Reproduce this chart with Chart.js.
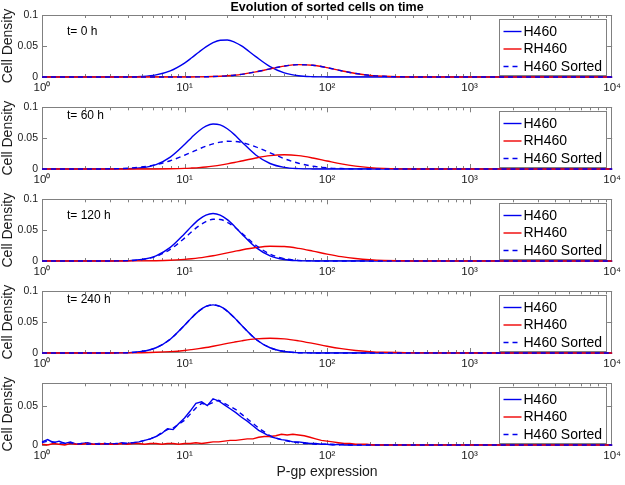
<!DOCTYPE html>
<html>
<head>
<meta charset="utf-8">
<script src="https://cdn.jsdelivr.net/npm/chart.js@4.4.1/dist/chart.umd.min.js"></script>
<style>
  html, body { margin: 0; padding: 0; background: #fff; }
  #wrap { position: relative; width: 625px; height: 485px; overflow: hidden; }
  #wrap canvas { position: absolute; left: 0; }
</style>
</head>
<body>
<div id="wrap"></div>
<script>
// ---- data ----
const title = 'Evolution of sorted cells on time';
const seriesNames = ['H460', 'RH460', 'H460 Sorted'];
const panelNotes = ['t= 0 h', 't= 60 h', 't= 120 h', 't= 240 h', ''];

const xTickValues = [1, 10, 100, 1000, 10000];
const xTickLabels = ['10⁰', '10¹', '10²', '10³', '10⁴'];
const yTickValues = [0, 0.05, 0.1];
const yTickLabels = ['0', '0.05', '0.1'];

// P-gp expression grid for the fitted (smooth) panels
const xSmooth = [1, 1.585, 2.512, 3.162, 3.981, 5.012, 6.31, 7.943, 10, 11.22, 12.59, 14.13, 15.85, 17.78, 19.95,
  22.39, 25.12, 31.62, 39.81, 50.12, 63.1, 79.43, 100, 125.9, 158.5, 199.5, 251.2, 398.1, 1000, 10000];

const h460_0h   = [0, 0, 0, 0, 0.0002, 0.0009, 0.0034, 0.0099, 0.0225, 0.031, 0.040, 0.0486, 0.0554, 0.0593, 0.0597,
  0.0564, 0.0501, 0.0328, 0.0167, 0.0066, 0.002, 0.0005, 0.0001, 0, 0, 0, 0, 0, 0, 0];
const rh460_0h  = [0, 0, 0, 0, 0, 0, 0, 0, 0.0001, 0.0001, 0.0002, 0.0004, 0.0007, 0.0012, 0.0019,
  0.0029, 0.0043, 0.0082, 0.0131, 0.0176, 0.0199, 0.0189, 0.0151, 0.0101, 0.0057, 0.0027, 0.0011, 0.0001, 0, 0];
const sorted_0h = [0, 0, 0, 0, 0, 0, 0, 0, 0.0001, 0.0001, 0.0002, 0.0004, 0.0007, 0.0012, 0.0019,
  0.0029, 0.0043, 0.0082, 0.0131, 0.0176, 0.0199, 0.0189, 0.0151, 0.0101, 0.0057, 0.0027, 0.0011, 0.0001, 0, 0];

const h460_60h   = [0, 0, 0, 0.0001, 0.0004, 0.002, 0.0071, 0.0193, 0.0396, 0.0512, 0.0617, 0.0694, 0.0729, 0.0714, 0.0653,
  0.0557, 0.0443, 0.0228, 0.0089, 0.0026, 0.0006, 0.0001, 0, 0, 0, 0, 0, 0, 0, 0];
const rh460_60h  = [0, 0, 0, 0, 0, 0, 0.0001, 0.0004, 0.001, 0.0016, 0.0023, 0.0033, 0.0047, 0.0063, 0.0083,
  0.0105, 0.013, 0.0178, 0.0216, 0.023, 0.0216, 0.0178, 0.013, 0.0083, 0.0047, 0.0023, 0.001, 0.0001, 0, 0];
const sorted_60h = [0, 0, 0.0001, 0.0004, 0.0013, 0.0032, 0.0071, 0.0134, 0.0223, 0.0273, 0.0323, 0.0369, 0.0408, 0.0435, 0.0449,
  0.0447, 0.0431, 0.036, 0.0263, 0.0167, 0.0093, 0.0045, 0.0019, 0.0007, 0.0002, 0, 0, 0, 0, 0];

const h460_120h   = [0, 0, 0, 0.0001, 0.0005, 0.0024, 0.0084, 0.0221, 0.0443, 0.0564, 0.067, 0.0744, 0.077, 0.0744, 0.067,
  0.0564, 0.0443, 0.0221, 0.0084, 0.0024, 0.0005, 0.0001, 0, 0, 0, 0, 0, 0, 0, 0];
const rh460_120h  = [0, 0, 0, 0, 0.0001, 0.0002, 0.0005, 0.0012, 0.0027, 0.0037, 0.005, 0.0067, 0.0086, 0.0108, 0.0131,
  0.0155, 0.0179, 0.0218, 0.0239, 0.0234, 0.0204, 0.016, 0.0112, 0.007, 0.004, 0.002, 0.0009, 0.0001, 0, 0];
const sorted_120h = [0, 0, 0, 0.0001, 0.0006, 0.0023, 0.0075, 0.0189, 0.0371, 0.0474, 0.0568, 0.0639, 0.0677, 0.0673, 0.0628,
  0.0551, 0.0454, 0.0255, 0.0112, 0.0038, 0.001, 0.0002, 0, 0, 0, 0, 0, 0, 0, 0];

const h460_240h   = [0, 0, 0, 0.0001, 0.0005, 0.0024, 0.0085, 0.0224, 0.0449, 0.0571, 0.0679, 0.0754, 0.078, 0.0754, 0.0679,
  0.0571, 0.0449, 0.0224, 0.0085, 0.0024, 0.0005, 0.0001, 0, 0, 0, 0, 0, 0, 0, 0];
const rh460_240h  = [0, 0, 0, 0.0001, 0.0002, 0.0005, 0.0011, 0.0022, 0.0041, 0.0055, 0.0071, 0.0089, 0.011, 0.0132, 0.0155,
  0.0177, 0.0197, 0.0229, 0.024, 0.0229, 0.0197, 0.0155, 0.011, 0.0071, 0.0041, 0.0022, 0.0011, 0.0002, 0, 0];
const sorted_240h = [0, 0, 0, 0.0001, 0.0005, 0.0024, 0.0085, 0.0224, 0.0449, 0.0571, 0.0679, 0.0754, 0.078, 0.0754, 0.0679,
  0.0571, 0.0449, 0.0224, 0.0085, 0.0024, 0.0005, 0.0001, 0, 0, 0, 0, 0, 0, 0, 0];

// measured histogram (bottom panel) bin centres
const xHist = [1, 1.096, 1.202, 1.318, 1.445, 1.585, 1.738, 1.905, 2.089, 2.291, 2.512, 2.754, 3.02, 3.311, 3.631,
  3.981, 4.365, 4.786, 5.248, 5.754, 6.31, 6.918, 7.586, 8.318, 9.12, 10,
  10.96, 12.02, 13.18, 14.45, 15.85, 17.38, 19.05, 20.89, 22.91, 25.12, 27.54, 30.2, 33.11, 36.31, 39.81,
  43.65, 47.86, 52.48, 57.54, 63.1, 69.18, 75.86, 83.18, 91.2, 100,
  109.6, 120.2, 131.8, 144.5, 158.5, 173.8, 190.5, 208.9, 229.1, 251.2, 275.4, 302, 331.1, 363.1, 398.1,
  1000, 10000];
const h460_hist = [0.004, 0.007, 0.003, 0.005, 0.002, 0.004, 0.001, 0.002, 0.003, 0.001, 0.002, 0.001, 0.002, 0.001, 0.003,
  0.002, 0.003, 0.004, 0.006, 0.008, 0.011, 0.015, 0.021, 0.020, 0.028, 0.035,
  0.044, 0.054, 0.056, 0.051, 0.060, 0.057, 0.052, 0.047, 0.042, 0.036, 0.031, 0.025, 0.019, 0.015, 0.011,
  0.009, 0.007, 0.006, 0.004, 0.004, 0.003, 0.002, 0.002, 0.001, 0.001,
  0, 0.001, 0, 0, 0, 0, 0, 0, 0, 0, 0, 0, 0, 0, 0,
  0, 0];
const rh460_hist = [0.001, 0, 0.002, 0.001, 0, 0.002, 0.001, 0.001, 0.002, 0.001, 0.001, 0.002, 0.001, 0.001, 0.002,
  0.001, 0.002, 0.002, 0.001, 0.002, 0.002, 0.001, 0.002, 0.002, 0.001, 0.002,
  0.002, 0.003, 0.002, 0.003, 0.004, 0.004, 0.005, 0.006, 0.006, 0.007, 0.008, 0.008, 0.010, 0.011, 0.011,
  0.012, 0.014, 0.013, 0.014, 0.013, 0.012, 0.010, 0.008, 0.006, 0.005,
  0.004, 0.003, 0.002, 0.002, 0.001, 0.001, 0.001, 0, 0, 0, 0, 0, 0, 0, 0,
  0, 0];
const sorted_hist = [0.003, 0.005, 0.004, 0.002, 0.003, 0.003, 0.001, 0.002, 0.001, 0.002, 0.001, 0.002, 0.001, 0.002, 0.002,
  0.002, 0.003, 0.004, 0.006, 0.008, 0.011, 0.016, 0.020, 0.022, 0.027, 0.032,
  0.040, 0.048, 0.054, 0.052, 0.055, 0.058, 0.054, 0.050, 0.046, 0.040, 0.034, 0.028, 0.022, 0.017, 0.012,
  0.009, 0.007, 0.005, 0.004, 0.003, 0.002, 0.002, 0.001, 0.001, 0.001,
  0.001, 0, 0.001, 0, 0, 0, 0, 0, 0, 0, 0, 0, 0, 0, 0,
  0, 0];

// ---- styling / layout ----
const FONT = "'Liberation Sans', Arial, Helvetica, sans-serif";
const BLUE = '#0000ee';
const RED = '#f00000';
const AXIS = '#808080';
const TEXT = '#1a1a1a';

const panelTops = [15, 107, 199, 291, 383];
const PLOT_H = 62;
const noteOffsets = [17, 8, 16, 8, 0];

const panels = [
  { x: xSmooth, series: [h460_0h, rh460_0h, sorted_0h], smooth: true, ymax: 0.1 },
  { x: xSmooth, series: [h460_60h, rh460_60h, sorted_60h], smooth: true, ymax: 0.1 },
  { x: xSmooth, series: [h460_120h, rh460_120h, sorted_120h], smooth: true, ymax: 0.1 },
  { x: xSmooth, series: [h460_240h, rh460_240h, sorted_240h], smooth: true, ymax: 0.1 },
  { x: xHist, series: [h460_hist, rh460_hist, sorted_hist], smooth: false, ymax: 0.08 }
];

Chart.defaults.font.family = FONT;
Chart.defaults.color = TEXT;

function toPoints(xs, ys) {
  return xs.map((x, i) => ({ x: x, y: ys[i] }));
}

// box + inward MATLAB-style ticks
const framePlugin = {
  id: 'frame',
  beforeDatasetsDraw(chart) {
    const { ctx, chartArea: a, scales } = chart;
    const x = scales.x, y = scales.y;
    ctx.save();
    ctx.strokeStyle = AXIS;
    ctx.lineWidth = 1;
    ctx.beginPath();
    for (let d = 1; d < 10000; d *= 10) {
      for (let m = 1; m < 10; m++) {
        const px = Math.round(x.getPixelForValue(d * m)) + 0.5;
        const len = m === 1 ? 5 : 3;
        ctx.moveTo(px, a.bottom); ctx.lineTo(px, a.bottom - len);
        ctx.moveTo(px, a.top); ctx.lineTo(px, a.top + len);
      }
    }
    yTickValues.forEach(v => {
      if (v > y.max) return;
      const py = Math.round(y.getPixelForValue(v)) + 0.5;
      ctx.moveTo(a.left, py); ctx.lineTo(a.left + 5, py);
      ctx.moveTo(a.right, py); ctx.lineTo(a.right - 5, py);
    });
    ctx.stroke();
    ctx.strokeRect(Math.round(a.left) + 0.5, Math.round(a.top) + 0.5,
      Math.round(a.width) - 1, Math.round(a.height) - 1);
    ctx.restore();
  }
};

// legend box inside the axes, top right
const legendPlugin = {
  id: 'boxLegend',
  afterDatasetsDraw(chart) {
    const { ctx, chartArea: a } = chart;
    const L = Math.round(a.right) - 113 + 0.5;
    const R = Math.round(a.right) - 6 + 0.5;
    const T = Math.round(a.top) + 4 + 0.5;
    const B = Math.round(a.bottom) - 1.5;
    ctx.save();
    ctx.fillStyle = '#fff';
    ctx.fillRect(L, T, R - L, B - T);
    ctx.strokeStyle = AXIS;
    ctx.lineWidth = 1;
    ctx.strokeRect(L, T, R - L, B - T);
    ctx.font = '14px ' + FONT;
    ctx.textBaseline = 'middle';
    ctx.textAlign = 'left';
    chart.data.datasets.forEach((ds, i) => {
      const yy = T + 12 + i * 17.5;
      ctx.strokeStyle = ds.borderColor;
      ctx.lineWidth = ds.borderWidth;
      ctx.setLineDash(ds.borderDash || []);
      ctx.beginPath();
      ctx.moveTo(L + 4, yy); ctx.lineTo(L + 22, yy);
      ctx.stroke();
      ctx.fillStyle = '#000';
      ctx.fillText(ds.label, L + 24, yy + 0.5);
    });
    ctx.restore();
  }
};

const wrap = document.getElementById('wrap');

panels.forEach((p, idx) => {
  const first = idx === 0;
  const last = idx === panels.length - 1;
  const padTop = first ? 0 : 10;
  const top = first ? 0 : panelTops[idx] - 10;
  const xAxisH = last ? 40 : 20;
  const height = (first ? panelTops[0] : 10) + PLOT_H + xAxisH;

  const canvas = document.createElement('canvas');
  canvas.width = 625;
  canvas.height = height;
  canvas.style.top = top + 'px';
  wrap.appendChild(canvas);

  const note = panelNotes[idx];
  const notePlugin = {
    id: 'note',
    afterDatasetsDraw(chart) {
      if (!note) return;
      const { ctx, chartArea: a } = chart;
      ctx.save();
      ctx.font = '12px ' + FONT;
      ctx.fillStyle = '#000';
      ctx.textBaseline = 'middle';
      ctx.fillText(note, a.left + 25, a.top + noteOffsets[idx]);
      ctx.restore();
    }
  };

  const styles = [
    { color: BLUE, dash: [], order: 2 },
    { color: RED, dash: [], order: 1 },
    { color: BLUE, dash: [5, 4], order: 0 }
  ];

  new Chart(canvas, {
    type: 'line',
    data: {
      datasets: p.series.map((ys, i) => ({
        label: seriesNames[i],
        data: toPoints(p.x, ys),
        borderColor: styles[i].color,
        borderDash: styles[i].dash,
        borderWidth: 1.4,
        order: styles[i].order,
        clip: 3,
        pointRadius: 0,
        cubicInterpolationMode: p.smooth ? 'monotone' : 'default',
        tension: 0
      }))
    },
    options: {
      responsive: false,
      animation: false,
      devicePixelRatio: 1,
      layout: { padding: { top: padTop, right: 9, left: 0, bottom: 0 } },
      plugins: {
        legend: { display: false },
        tooltip: { enabled: false },
        title: {
          display: first,
          text: title,
          fullSize: false,
          color: '#000',
          font: { size: 12.5, weight: 'bold' },
          padding: { top: 0, bottom: 0 }
        }
      },
      scales: {
        x: {
          type: 'logarithmic',
          min: 1,
          max: 10000,
          afterBuildTicks: s => { s.ticks = xTickValues.map(v => ({ value: v })); },
          afterFit: s => { s.height = xAxisH; },
          ticks: {
            autoSkip: false,
            maxRotation: 0,
            padding: 4,
            color: TEXT,
            font: { size: 11.5 },
            callback: (v, i) => xTickLabels[i]
          },
          grid: { display: false, drawTicks: false, tickLength: 0 },
          border: { display: false },
          title: {
            display: last,
            text: 'P-gp expression',
            color: TEXT,
            font: { size: 14 },
            padding: { top: 0, bottom: 4 }
          }
        },
        y: {
          min: 0,
          max: p.ymax,
          afterBuildTicks: s => {
            s.ticks = yTickValues.filter(v => v <= p.ymax).map(v => ({ value: v }));
          },
          afterFit: s => { s.width = 42; },
          ticks: {
            padding: 4,
            color: TEXT,
            font: { size: 10.5 },
            callback: (v) => yTickLabels[yTickValues.indexOf(v)]
          },
          grid: { display: false, drawTicks: false, tickLength: 0 },
          border: { display: false },
          title: {
            display: true,
            text: 'Cell Density',
            color: TEXT,
            font: { size: 14 },
            padding: 0
          }
        }
      }
    },
    plugins: [framePlugin, legendPlugin, notePlugin]
  });
});
</script>
</body>
</html>
